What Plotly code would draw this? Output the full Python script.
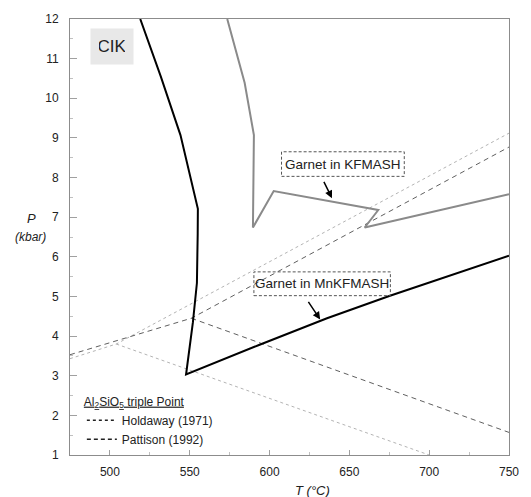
import plotly.graph_objects as go

# Garnet-in curve, MnKFMASH system (T in °C, P in kbar)
mn_T = [519.0, 531.8, 544.2, 555.1, 555.0, 554.5, 552.0, 547.7, 593.0, 617.5, 636.0, 675.0, 750.0]
mn_P = [12.0, 10.56, 9.07, 7.21, 6.59, 5.34, 4.35, 3.03, 3.77, 4.16, 4.45, 5.01, 6.03]

# Garnet-in curve, KFMASH system
kf_T = [573.5, 584.4, 590.2, 589.6, 602.6, 668.1, 659.6, 750.0]
kf_P = [12.0, 10.39, 9.07, 6.74, 7.66, 7.18, 6.74, 7.58]

# Al2SiO5 triple points and reaction-line end points
hold_triple = (504.0, 3.80)
hold_ky_and = (475.0, 3.43)
hold_ky_sil = (750.0, 9.12)
hold_and_sil = (700.0, 1.00)

patt_triple = (551.0, 4.45)
patt_ky_and = (475.0, 3.53)
patt_ky_sil = (750.0, 8.77)
patt_and_sil = (750.0, 1.57)

x_ticks = [500, 550, 600, 650, 700, 750]
y_ticks = list(range(1, 13))

FONT = "Liberation Sans, Arial, sans-serif"


def triple_lines(tp, a, b, c):
    xs = [a[0], tp[0], b[0], None, tp[0], c[0]]
    ys = [a[1], tp[1], b[1], None, tp[1], c[1]]
    return xs, ys


fig = go.Figure()

hx, hy = triple_lines(hold_triple, hold_ky_and, hold_ky_sil, hold_and_sil)
fig.add_trace(go.Scatter(x=hx, y=hy, mode="lines", showlegend=False,
                         line=dict(color="#b4b4b4", width=1, dash="dot"),
                         hoverinfo="skip"))
px_, py_ = triple_lines(patt_triple, patt_ky_and, patt_ky_sil, patt_and_sil)
fig.add_trace(go.Scatter(x=px_, y=py_, mode="lines", showlegend=False,
                         line=dict(color="#606060", width=1, dash="5px,4px"),
                         hoverinfo="skip"))

fig.add_trace(go.Scatter(x=kf_T, y=kf_P, mode="lines", showlegend=False,
                         line=dict(color="#8a8a8a", width=2)))
fig.add_trace(go.Scatter(x=mn_T, y=mn_P, mode="lines", showlegend=False,
                         line=dict(color="#000000", width=2)))

# legend entries for the two triple-point calibrations
fig.add_trace(go.Scatter(x=[None], y=[None], mode="lines", name="Holdaway (1971)",
                         line=dict(color="#222222", width=1.5, dash="dot")))
fig.add_trace(go.Scatter(x=[None], y=[None], mode="lines", name="Pattison (1992)",
                         line=dict(color="#222222", width=1.5, dash="4px,3px")))

axis_common = dict(
    showline=True, linecolor="#8c8c8c", linewidth=1, mirror=True,
    showgrid=False, zeroline=False,
    ticks="inside", tickcolor="#a0a0a0", tickwidth=1,
    tickfont=dict(family=FONT, size=12, color="#222222"),
)

fig.update_xaxes(range=[475, 750], tickvals=x_ticks, ticklen=5,
                 ticklabelstandoff=6,
                 minor=dict(dtick=25, tick0=475, ticks="inside", ticklen=3,
                            tickcolor="#c0c0c0"),
                 **axis_common)
fig.update_yaxes(range=[1, 12], tickvals=y_ticks, ticklen=7,
                 ticklabelstandoff=8,
                 minor=dict(dtick=0.5, tick0=1, ticks="inside", ticklen=3,
                            tickcolor="#c0c0c0"),
                 **axis_common)

annotations = [
    dict(text="CIK", x=0.095, y=0.937, xref="paper", yref="paper",
         xanchor="center", yanchor="middle",
         showarrow=False, font=dict(family=FONT, size=17, color="#222222"),
         bgcolor="#e8e8e8", borderpad=8, width=26),
    dict(text="<i>P</i>", x=-0.088, y=0.542, xref="paper", yref="paper",
         xanchor="center", yanchor="middle",
         showarrow=False, font=dict(family=FONT, size=13, color="#222222")),
    dict(text="<i>(kbar)</i>", x=-0.09, y=0.499, xref="paper", yref="paper",
         xanchor="center", yanchor="middle",
         showarrow=False, font=dict(family=FONT, size=12, color="#222222")),
    dict(text="<i>T (°C)</i>", x=0.552, y=-0.081, xref="paper", yref="paper",
         xanchor="center", yanchor="middle",
         showarrow=False, font=dict(family=FONT, size=13, color="#222222")),
    dict(text="Garnet in KFMASH", x=646.0, y=8.34, showarrow=False,
         font=dict(family=FONT, size=13.5, color="#222222")),
    dict(text="Garnet in MnKFMASH", x=633.0, y=5.32, showarrow=False,
         font=dict(family=FONT, size=13.5, color="#222222")),
    dict(text="", x=639.1, y=7.48, ax=633.6, ay=7.93, axref="x", ayref="y",
         showarrow=True, arrowhead=2, arrowsize=1, arrowwidth=1.5,
         arrowcolor="#000000"),
    dict(text="", x=631.7, y=4.42, ax=623.7, ay=4.90, axref="x", ayref="y",
         showarrow=True, arrowhead=2, arrowsize=1, arrowwidth=1.5,
         arrowcolor="#000000"),
]

shapes = [
    dict(type="rect", x0=607.5, x1=684.4, y0=8.03, y1=8.65,
         line=dict(color="#555555", width=1, dash="3px,2px")),
    dict(type="rect", x0=590.2, x1=675.7, y0=5.02, y1=5.62,
         line=dict(color="#555555", width=1, dash="3px,2px")),
]

fig.update_layout(
    width=531, height=497,
    margin=dict(l=70, r=17, t=12, b=42),
    paper_bgcolor="white", plot_bgcolor="white",
    font=dict(family=FONT, size=12, color="#222222"),
    annotations=annotations, shapes=shapes,
    legend=dict(
        x=0.027, y=0.149, xanchor="left", yanchor="top",
        bgcolor="rgba(0,0,0,0)",
        title=dict(text="<u>Al<sub>2</sub>SiO<sub>5</sub> triple Point</u>",
                   font=dict(family=FONT, size=12, color="#222222")),
        font=dict(family=FONT, size=12, color="#222222"),
        tracegroupgap=0, itemwidth=30,
    ),
)

fig.write_html("out.html")
